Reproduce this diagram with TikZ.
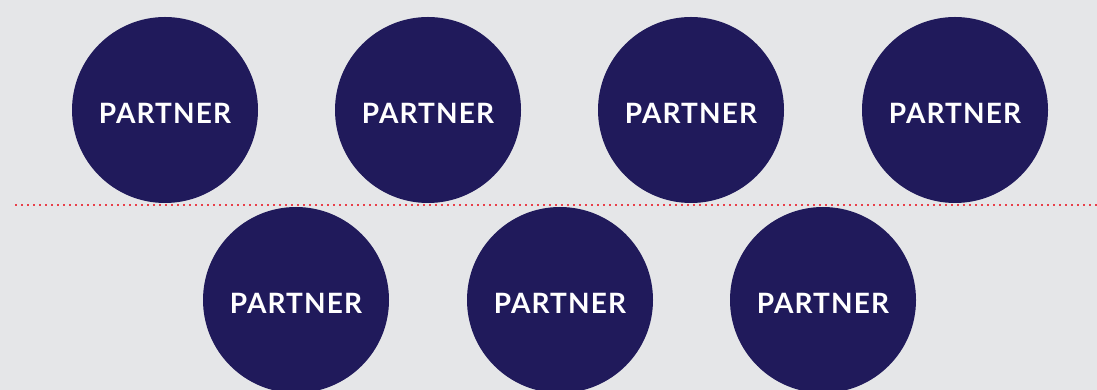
\documentclass[tikz,border=0pt]{standalone}
\usepackage{fontspec}
\setsansfont{Lato}[LetterSpace=4]
\definecolor{bg}{HTML}{E5E6E8}
\definecolor{partnerblue}{HTML}{201A5B}
\definecolor{divider}{HTML}{E8404A}
\begin{document}
\begin{tikzpicture}[x=1pt,y=1pt,
  partner/.style={circle, fill=partnerblue, minimum size=186pt, inner sep=0pt,
    text height=28pt, text depth=0pt,
    text=white, font=\sffamily\bfseries\fontsize{28}{28}\selectfont},
  divline/.style={draw=divider, line width=2.4pt, dash pattern=on 2.4pt off 3.6pt}]
  % background
  \fill[bg] (0,0) rectangle (1097,390);
  \useasboundingbox (0,0) rectangle (1097,390);
  % top row
  \node[partner] (p1) at (165,280) {PARTNER};
  \node[partner] (p2) at (428,280) {PARTNER};
  \node[partner] (p3) at (691,280) {PARTNER};
  \node[partner] (p4) at (955,280) {PARTNER};
  % dotted divider
  \coordinate (dl) at (15,185);
  \coordinate (dr) at (1097,185);
  \draw[divline] (dl) -- (dr);
  % bottom row
  \node[partner] (p5) at (296,90) {PARTNER};
  \node[partner] (p6) at (560,90) {PARTNER};
  \node[partner] (p7) at (823,90) {PARTNER};
\end{tikzpicture}
\end{document}
